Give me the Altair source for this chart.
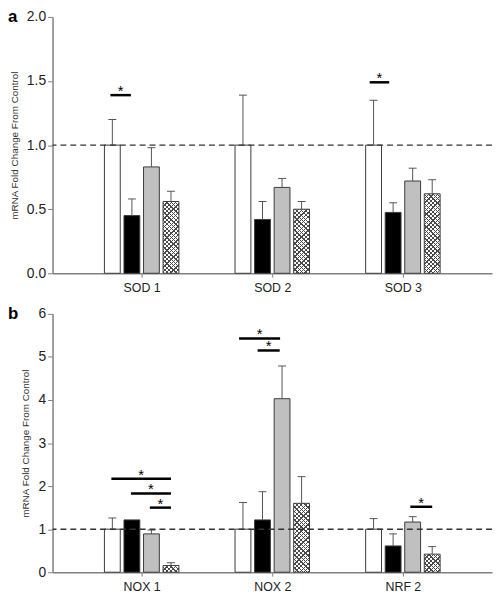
import altair as alt
import pandas as pd

# ---------------- data ----------------
genes_a = ["SOD 1", "SOD 2", "SOD 3"]
genes_b = ["NOX 1", "NOX 2", "NRF 2"]
groups = ["G1", "G2", "G3", "G4"]          # white, black, grey, cross-hatched

a_mean = [[1.00, 0.45, 0.83, 0.56],
          [1.00, 0.42, 0.67, 0.50],
          [1.00, 0.475, 0.72, 0.62]]
a_upper = [[1.20, 0.58, 0.98, 0.64],
           [1.39, 0.56, 0.74, 0.56],
           [1.35, 0.55, 0.82, 0.73]]

b_mean = [[1.00, 1.215, 0.89, 0.155],
          [1.00, 1.215, 4.03, 1.60],
          [1.00, 0.61, 1.165, 0.42]]
b_upper = [[1.26, 1.215, 0.98, 0.22],
           [1.62, 1.87, 4.79, 2.22],
           [1.245, 0.89, 1.29, 0.595]]

# significance brackets: gene index, start bar, end bar (bar units), height
a_sig_gene = [0, 2]
a_sig_from = [-0.1, -0.2]
a_sig_to = [0.95, 0.8]
a_sig_y = [1.39, 1.49]

b_sig_gene = [0, 0, 0, 1, 1, 2]
b_sig_from = [-0.05, 0.95, 1.92, -0.2, 0.75, 1.88]
b_sig_to = [3.0, 3.0, 3.0, 1.9, 1.88, 3.0]
b_sig_y = [2.17, 1.83, 1.50, 5.43, 5.15, 1.52]

# ---------------- layout / style ----------------
W = 444
STEP_PX = 135.0
PITCH = 20.2 / STEP_PX
BAR_W = 16
X_PAD = 87.0 / STEP_PX
FONT = "Liberation Sans"
FILLS = ["#ffffff", "#000000", "#c0c0c0", "#ffffff"]
HATCH_COLOR = "#4a4a4a"


def hatch_gradient(w, h, direction, bg):
    P, lw = 4.4, 1.3
    L = w + h
    s = L / (w * w + h * h)
    p, q = w * s, h * s
    stops = [alt.GradientStop(offset=0, color=bg)]
    k = 0
    while k * P < L:
        a = k * P / L
        b = min((k * P + lw) / L, 1.0)
        stops += [alt.GradientStop(offset=a, color=bg),
                  alt.GradientStop(offset=a, color=HATCH_COLOR),
                  alt.GradientStop(offset=b, color=HATCH_COLOR),
                  alt.GradientStop(offset=b, color=bg)]
        k += 1
    stops.append(alt.GradientStop(offset=1, color=bg))
    if direction == 0:
        return alt.LinearGradient(gradient="linear", stops=stops, x1=0, y1=0, x2=p, y2=q)
    return alt.LinearGradient(gradient="linear", stops=stops, x1=0, y1=1, x2=p, y2=1 - q)


def panel(genes, means, uppers, sg, sf, st, sy, ymax, yvals, fmt, H, letter):
    rows = []
    for gi, g in enumerate(genes):
        for j in range(4):
            rows.append(dict(gene=g, grp=groups[j], pos=gi + (j - 1.5) * PITCH,
                             mean=means[gi][j], upper=uppers[gi][j]))
    df = pd.DataFrame(rows)
    sig = pd.DataFrame(dict(
        x1=[g + (f - 1.5) * PITCH for g, f in zip(sg, sf)],
        x2=[g + (t - 1.5) * PITCH for g, t in zip(sg, st)],
        y=sy))
    sig["xm"] = (sig.x1 + sig.x2) / 2

    xs = alt.Scale(domain=[-X_PAD, 2 + X_PAD], nice=False, zero=False)
    ys = alt.Scale(domain=[0, ymax], nice=False)
    label_expr = "[" + ",".join(f"'{g}'" for g in genes) + "][datum.value]"

    x_axis = alt.Axis(values=[0, 1, 2], labelExpr=label_expr, title=None, grid=False,
                      tickSize=4, labelPadding=4, labelFontSize=12.5)
    y_axis = alt.Axis(values=yvals, format=fmt, title="mRNA Fold Change From Control",
                      grid=False, tickSize=5, labelPadding=2, labelFontSize=14,
                      titleFontSize=10, titleFontWeight="normal", titlePadding=7)

    def X(f):
        return alt.X(f, scale=xs, axis=x_axis)

    def Y(f):
        return alt.Y(f, scale=ys, axis=y_axis)

    base = alt.Chart(df)
    bars = base.mark_bar(size=BAR_W).encode(
        x=X("pos:Q"), y=Y("mean:Q"),
        fill=alt.Fill("grp:N", scale=alt.Scale(domain=groups, range=FILLS), legend=None),
    )
    layers = [bars]
    for gi in range(3):
        v = means[gi][3]
        h = v / ymax * H
        for d, bg in ((0, "#ffffff"), (1, "rgba(255,255,255,0)")):
            layers.append(
                base.transform_filter(
                    (alt.datum.gene == genes[gi]) & (alt.datum.grp == groups[3])
                ).mark_bar(size=BAR_W, fill=hatch_gradient(BAR_W, h, d, bg)).encode(
                    x=X("pos:Q"), y=Y("mean:Q"))
            )
    outline = base.mark_bar(size=BAR_W, fillOpacity=0, stroke="#3c3c3c", strokeWidth=1).encode(
        x=X("pos:Q"), y=Y("mean:Q"))
    err_df = base.transform_filter(alt.datum.upper > alt.datum.mean)
    err = err_df.mark_rule(color="#555555", strokeWidth=1).encode(
        x=X("pos:Q"), y=Y("mean:Q"), y2="upper:Q")
    cap = err_df.mark_tick(orient="horizontal", size=8, thickness=1, color="#555555",
                           opacity=1).encode(x=X("pos:Q"), y=Y("upper:Q"))
    ref = alt.Chart(pd.DataFrame({"r": [1.0]})).mark_rule(
        color="#333333", strokeDash=[6, 4], strokeWidth=1.5).encode(y=Y("r:Q"))
    sig_c = alt.Chart(sig)
    sig_l = sig_c.mark_rule(color="#000000", strokeWidth=2.5).encode(
        x=X("x1:Q"), x2="x2:Q", y=Y("y:Q"))
    sig_t = sig_c.mark_text(text="*", fontSize=15, font=FONT, color="#000000",
                            baseline="alphabetic", dy=1).encode(x=X("xm:Q"), y=Y("y:Q"))
    lab = alt.Chart(pd.DataFrame({"t": [letter]})).mark_text(
        fontSize=17, fontWeight="bold", font=FONT, align="left", baseline="top",
        color="#000000").encode(text="t:N", x=alt.value(-45), y=alt.value(-8))
    layers += [outline, err, cap, ref, sig_l, sig_t, lab]
    return alt.layer(*layers).properties(width=W, height=H)


top = panel(genes_a, a_mean, a_upper, a_sig_gene, a_sig_from, a_sig_to, a_sig_y,
            2.0, [0, 0.5, 1.0, 1.5, 2.0], ".1f", 259, "a")
bottom = panel(genes_b, b_mean, b_upper, b_sig_gene, b_sig_from, b_sig_to, b_sig_y,
               6.0, [0, 1, 2, 3, 4, 5, 6], "d", 261, "b")

chart = alt.vconcat(top, bottom, spacing=11).properties(
    padding={"left": 0, "top": -3, "right": 0, "bottom": 0}
).configure_view(stroke=None).configure_axis(
    domainColor="#808080", tickColor="#808080", labelColor="#222222",
    titleColor="#333333", labelFont=FONT, titleFont=FONT, domainWidth=1.5
)

chart.save("out.html", embed_options={"renderer": "svg", "actions": False})
